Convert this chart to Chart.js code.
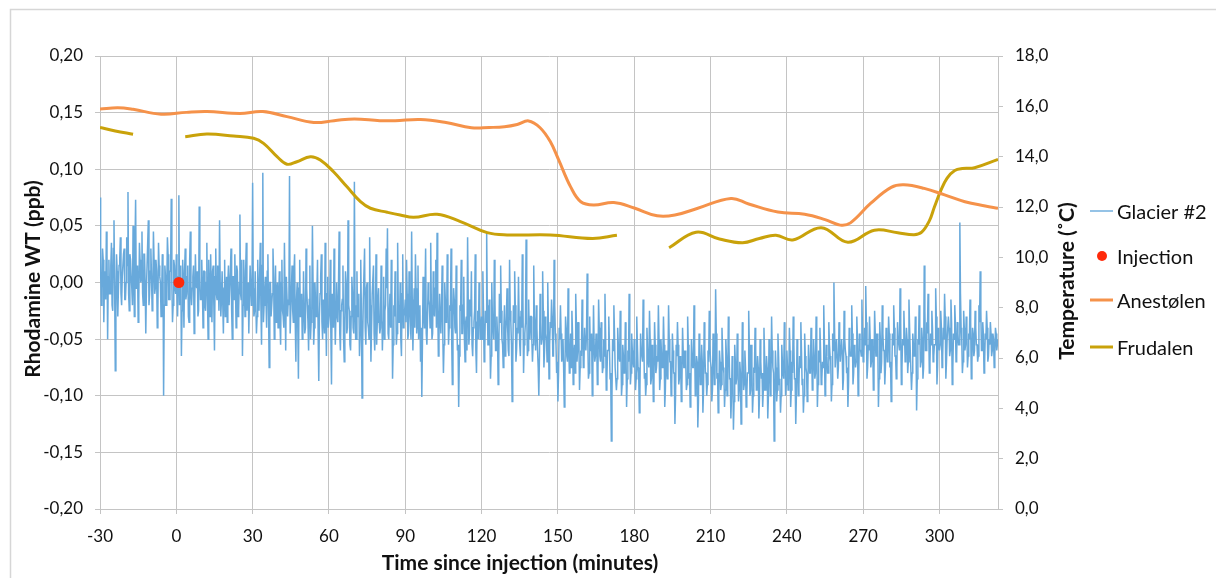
<!DOCTYPE html>
<html>
<head>
<meta charset="utf-8">
<title>Rhodamine WT and temperature</title>
<script src="https://cdn.jsdelivr.net/npm/chart.js@4"></script>
<style>
  html, body { margin: 0; padding: 0; background: #fff; }
  #wrap { width: 1216px; height: 578px; }
</style>
</head>
<body>
<div id="wrap"><canvas id="chart" width="1216" height="578"></canvas></div>
<script>
// Rhodamine WT readings at Glacier #2 (ppb). Samples every quarter minute from -30 min,
// stored as two runs: readings on the half minute, and the readings in between.
const glacierStart = -30;
const glacierStep = 0.5;
const glacierWT = [
  0.075,-0.02,0.03,-0.035,0.01,0.045,-0.05,0.02,-0.01,0.035,-0.025,0.055,-0.078,0.025,-0.03,0.015,0.04,-0.02,0.005,0.03,
  -0.015,0.04,0.08,-0.025,0.02,-0.005,0.05,-0.03,0.073,0.01,-0.035,0.035,0,0.045,-0.02,0.025,-0.045,0.015,0.055,-0.01,
  0.03,-0.025,0.045,-0.01,0.02,-0.04,0.035,0.005,-0.03,0.025,-0.1,0.015,-0.02,0.04,-0.015,0.01,0.074,-0.035,0.02,-0.005,
  0.025,-0.03,0.077,-0.015,-0.065,0.02,-0.04,0.03,-0.01,0.015,-0.035,0.045,-0.02,0.005,-0.045,0.025,-0.005,-0.03,0.067,-0.015,
  0.02,-0.04,0.01,-0.025,0.035,-0.05,0,0.025,-0.035,0.015,-0.06,0.03,-0.015,0.005,0.055,-0.03,0.01,-0.045,0.02,-0.01,
  -0.035,0.015,-0.02,0.03,-0.05,0.005,0.025,-0.04,0.01,-0.025,0.06,-0.015,-0.065,0.02,-0.03,0.035,-0.005,-0.045,0.015,-0.02,
  0.088,-0.03,0.01,-0.045,0.02,-0.025,0.035,-0.055,0.097,-0.02,0.005,-0.04,0.025,-0.075,0,-0.03,0.03,-0.05,0.015,-0.01,
  -0.04,0.01,-0.055,0.02,-0.03,0.035,-0.06,0.005,-0.015,0.094,-0.045,0.015,-0.035,0.025,-0.07,0,-0.085,0.02,-0.025,-0.05,
  0.01,-0.045,0.03,-0.02,-0.06,0.015,-0.035,0.05,-0.055,0,-0.03,0.02,-0.087,-0.01,0.025,-0.05,-0.015,0.035,-0.065,0.005,
  -0.04,0.02,-0.09,-0.015,0.03,-0.055,0,-0.035,0.045,-0.06,-0.02,0.015,-0.07,0.01,-0.045,0.055,-0.025,-0.06,0.005,-0.04,
  0.089,-0.05,0.01,-0.03,-0.065,0.02,-0.102,-0.015,0.03,-0.055,0,-0.04,0.04,-0.07,-0.01,0.015,-0.06,0.025,-0.035,-0.005,
  -0.045,0.015,-0.06,0.005,-0.025,0.03,0.048,-0.05,-0.01,0.02,-0.085,-0.02,0.01,-0.055,0.035,-0.035,0,-0.065,0.025,-0.03,
  -0.015,0.02,-0.05,0.01,-0.035,0.045,-0.06,-0.005,0.025,-0.045,0.015,-0.025,-0.07,-0.101,0.005,-0.04,0.03,-0.055,0,-0.02,
  0.035,-0.05,0.01,-0.03,0.02,0.044,-0.065,-0.01,-0.045,0.015,-0.08,0,-0.035,0.025,-0.055,-0.02,0.03,-0.09,-0.005,-0.04,
  0.015,-0.06,-0.11,-0.02,0.02,-0.045,0.005,-0.07,-0.03,0.04,-0.055,-0.015,0.01,-0.065,-0.035,0.025,-0.08,-0.025,0,-0.05,
  -0.03,0.01,-0.07,-0.025,0.044,-0.055,-0.015,-0.085,0,-0.04,0.02,-0.06,-0.03,-0.09,-0.01,0.015,-0.05,-0.075,-0.02,-0.045,
  -0.005,-0.06,0.02,-0.035,-0.105,-0.02,0.01,-0.07,-0.04,0.005,-0.055,-0.025,0.025,-0.08,-0.045,0.038,-0.065,-0.015,-0.05,-0.03,
  -0.07,0.015,-0.04,-0.02,-0.06,-0.1,-0.01,-0.055,0.01,-0.075,-0.03,-0.05,0,-0.085,-0.035,-0.015,-0.065,0.02,-0.045,-0.08,
  -0.105,-0.04,-0.02,-0.07,-0.05,-0.11,-0.03,-0.065,-0.005,-0.08,-0.045,-0.025,-0.09,-0.055,-0.01,-0.07,-0.035,-0.095,-0.06,-0.015,
  -0.075,-0.04,-0.06,0.008,-0.085,-0.03,-0.055,-0.1,-0.02,-0.07,-0.045,-0.09,-0.015,-0.065,-0.035,-0.08,-0.05,-0.01,-0.095,-0.06,
  -0.03,-0.085,-0.14,-0.05,-0.02,-0.075,-0.095,-0.04,-0.065,-0.025,-0.1,-0.055,-0.08,-0.035,-0.11,-0.06,-0.01,-0.09,-0.045,-0.07,
  -0.05,-0.095,-0.03,-0.075,-0.115,-0.045,-0.06,-0.015,-0.085,-0.1,-0.04,-0.07,-0.025,-0.09,-0.055,-0.105,-0.035,-0.08,-0.065,-0.02,
  -0.095,-0.05,-0.075,-0.03,-0.11,-0.06,-0.085,-0.02,-0.07,-0.1,-0.045,-0.08,-0.125,-0.055,-0.035,-0.09,-0.065,-0.105,-0.04,-0.075,
  -0.06,-0.095,-0.03,-0.085,-0.11,-0.05,-0.075,-0.02,-0.1,-0.065,-0.128,-0.045,-0.09,-0.055,-0.115,-0.035,-0.08,-0.1,-0.06,-0.025,
  -0.07,-0.105,-0.045,-0.09,-0.006,-0.085,-0.115,-0.06,-0.095,-0.04,-0.075,-0.11,-0.05,-0.1,-0.03,-0.085,-0.12,-0.065,-0.13,-0.055,
  -0.09,-0.045,-0.105,-0.07,-0.125,-0.035,-0.095,-0.06,-0.11,-0.08,-0.025,-0.1,-0.055,-0.115,-0.075,-0.04,-0.095,-0.065,-0.12,-0.05,
  -0.085,-0.11,-0.04,-0.095,-0.065,-0.12,-0.05,-0.1,-0.03,-0.075,-0.14,-0.06,-0.105,-0.045,-0.09,-0.115,-0.055,-0.08,-0.035,-0.1,
  -0.06,-0.095,-0.04,-0.11,-0.07,-0.03,-0.085,-0.125,-0.05,-0.1,-0.065,-0.035,-0.09,-0.115,-0.045,-0.075,-0.105,-0.055,-0.08,-0.04,
  -0.095,-0.05,-0.085,-0.03,-0.11,-0.06,-0.04,-0.09,-0.07,-0.02,-0.1,-0.055,-0.08,-0.035,-0.065,-0.105,-0.045,0,-0.075,-0.05,
  -0.085,-0.035,-0.07,-0.05,-0.095,-0.025,-0.06,-0.08,-0.11,-0.04,-0.065,-0.02,-0.09,-0.055,-0.075,-0.03,-0.1,-0.045,-0.06,-0.015,
  -0.07,-0.04,-0.003,-0.085,-0.055,-0.03,-0.075,-0.05,-0.095,-0.025,-0.065,-0.045,-0.11,-0.035,-0.08,-0.02,-0.06,-0.09,-0.04,-0.07,
  -0.03,-0.075,-0.105,-0.045,-0.02,-0.065,-0.085,-0.035,-0.055,-0.005,-0.09,-0.05,-0.025,-0.07,-0.04,-0.08,-0.015,-0.06,-0.095,-0.045,
  -0.065,-0.03,-0.113,-0.05,-0.02,-0.075,-0.04,-0.085,0.015,-0.06,-0.035,-0.01,-0.08,-0.045,-0.025,-0.07,-0.055,-0.005,-0.09,-0.04,
  -0.06,-0.025,-0.075,-0.04,-0.01,-0.085,-0.05,-0.03,-0.065,-0.015,-0.09,-0.045,-0.02,-0.07,-0.035,-0.055,0.053,-0.04,-0.08,-0.025,
  -0.06,-0.03,-0.075,-0.045,-0.015,-0.085,-0.04,-0.065,-0.025,-0.055,-0.07,-0.02,0.01,-0.06,-0.035,-0.08,-0.045,-0.025,-0.07,-0.05,
  -0.035,-0.065,-0.045,-0.075,-0.04,-0.06,-0.05
];
// Readings taken a quarter minute after each entry above.
const glacierWTMid = [
  0.01,-0.005,0.02,0,-0.015,0.025,0.005,-0.01,0.015,-0.02,0.03,0,-0.025,0.01,-0.005,0.02,-0.01,0.005,0.025,-0.015,
  0,0.015,-0.01,0.025,0.005,-0.02,0.01,0.03,-0.005,0.015,-0.015,0.02,0.005,-0.01,0.025,0,-0.005,0.015,-0.02,0.01,
  0.005,-0.015,0.02,-0.005,0.01,-0.025,0.015,0,-0.01,0.02,-0.02,0.005,-0.005,0.025,-0.015,0.01,0,-0.02,0.015,-0.01,
  -0.01,0.005,-0.02,0.015,-0.025,0,0.01,-0.015,0.005,-0.03,0.02,-0.01,-0.005,0.015,-0.02,0,0.01,-0.025,0.005,-0.015,
  -0.005,0.01,-0.02,0,-0.015,0.02,-0.03,-0.005,0.01,-0.02,0.005,-0.01,0.015,-0.025,0,-0.015,0.01,-0.005,-0.03,0.005,
  0,-0.02,0.01,-0.025,0.005,-0.015,-0.005,0.015,-0.03,0,-0.01,0.02,-0.02,-0.005,0.01,-0.025,0,-0.015,0.015,-0.005,
  -0.005,-0.025,0.01,-0.03,-0.01,0.005,-0.02,0.015,-0.035,-0.005,-0.015,0.01,-0.025,0,-0.03,-0.01,0.005,-0.02,-0.035,0,
  -0.015,-0.035,0,-0.025,-0.04,-0.01,0.005,-0.03,-0.02,-0.045,-0.005,-0.025,0.01,-0.035,-0.015,-0.04,-0.005,-0.03,-0.01,-0.045,
  -0.02,-0.04,-0.005,-0.035,-0.015,-0.05,-0.025,0,-0.04,-0.02,-0.01,-0.045,-0.03,0.005,-0.035,-0.015,-0.045,-0.025,-0.01,-0.04,
  -0.025,-0.045,-0.01,-0.04,-0.02,-0.055,-0.03,-0.005,-0.045,-0.025,-0.015,-0.05,-0.035,0,-0.04,-0.02,-0.055,-0.03,-0.01,-0.045,
  -0.02,-0.05,-0.03,-0.01,-0.045,-0.025,-0.055,-0.015,-0.04,-0.005,-0.035,-0.05,-0.02,-0.04,-0.01,-0.045,-0.03,-0.055,-0.015,-0.035,
  -0.04,-0.015,-0.035,-0.05,-0.02,-0.005,-0.045,-0.025,-0.04,-0.01,-0.055,-0.03,-0.015,-0.045,-0.02,-0.035,-0.05,-0.01,-0.04,-0.025,
  -0.035,-0.01,-0.045,-0.02,-0.05,-0.015,-0.03,-0.04,-0.005,-0.035,-0.05,-0.02,-0.04,-0.055,-0.025,-0.01,-0.045,-0.03,-0.015,-0.04,
  -0.02,-0.045,-0.025,-0.005,-0.04,-0.015,-0.05,-0.03,-0.02,-0.045,-0.055,-0.015,-0.035,-0.01,-0.04,-0.025,-0.05,-0.03,-0.015,-0.045,
  -0.03,-0.055,-0.065,-0.025,-0.045,-0.02,-0.05,-0.035,-0.06,-0.015,-0.045,-0.03,-0.055,-0.04,-0.025,-0.06,-0.035,-0.05,-0.02,-0.045,
  -0.05,-0.025,-0.06,-0.035,-0.02,-0.055,-0.04,-0.065,-0.03,-0.05,-0.015,-0.06,-0.045,-0.07,-0.035,-0.025,-0.055,-0.04,-0.065,-0.03,
  -0.04,-0.065,-0.025,-0.055,-0.07,-0.035,-0.02,-0.06,-0.045,-0.03,-0.065,-0.04,-0.015,-0.055,-0.035,-0.025,-0.06,-0.045,-0.03,-0.05,
  -0.055,-0.03,-0.06,-0.04,-0.075,-0.065,-0.035,-0.05,-0.025,-0.06,-0.045,-0.07,-0.035,-0.055,-0.04,-0.03,-0.065,-0.02,-0.055,-0.07,
  -0.08,-0.05,-0.045,-0.065,-0.075,-0.085,-0.04,-0.07,-0.055,-0.06,-0.075,-0.045,-0.065,-0.08,-0.035,-0.06,-0.05,-0.075,-0.065,-0.04,
  -0.07,-0.055,-0.045,-0.05,-0.08,-0.06,-0.045,-0.075,-0.055,-0.065,-0.05,-0.08,-0.04,-0.07,-0.055,-0.075,-0.065,-0.045,-0.085,-0.06,
  -0.055,-0.08,-0.1,-0.06,-0.045,-0.075,-0.085,-0.055,-0.07,-0.05,-0.09,-0.065,-0.075,-0.055,-0.085,-0.07,-0.05,-0.08,-0.06,-0.075,
  -0.065,-0.085,-0.055,-0.08,-0.095,-0.06,-0.07,-0.05,-0.08,-0.09,-0.06,-0.075,-0.05,-0.085,-0.065,-0.09,-0.055,-0.075,-0.07,-0.05,
  -0.085,-0.065,-0.07,-0.055,-0.095,-0.075,-0.08,-0.05,-0.07,-0.09,-0.06,-0.08,-0.1,-0.065,-0.055,-0.085,-0.07,-0.09,-0.06,-0.075,
  -0.07,-0.09,-0.055,-0.08,-0.095,-0.065,-0.075,-0.055,-0.09,-0.07,-0.105,-0.06,-0.085,-0.07,-0.095,-0.06,-0.08,-0.09,-0.07,-0.055,
  -0.075,-0.095,-0.06,-0.085,-0.045,-0.08,-0.1,-0.07,-0.09,-0.06,-0.08,-0.095,-0.065,-0.09,-0.055,-0.085,-0.1,-0.075,-0.105,-0.07,
  -0.085,-0.065,-0.095,-0.08,-0.105,-0.06,-0.09,-0.075,-0.1,-0.08,-0.055,-0.095,-0.07,-0.1,-0.08,-0.06,-0.09,-0.075,-0.1,-0.07,
  -0.08,-0.095,-0.065,-0.09,-0.075,-0.1,-0.07,-0.09,-0.06,-0.08,-0.11,-0.075,-0.095,-0.065,-0.085,-0.1,-0.07,-0.085,-0.06,-0.09,
  -0.075,-0.09,-0.06,-0.095,-0.08,-0.055,-0.085,-0.1,-0.07,-0.09,-0.075,-0.06,-0.085,-0.1,-0.065,-0.08,-0.095,-0.07,-0.08,-0.06,
  -0.085,-0.065,-0.08,-0.055,-0.09,-0.07,-0.06,-0.085,-0.075,-0.05,-0.09,-0.065,-0.08,-0.055,-0.07,-0.09,-0.06,-0.04,-0.075,-0.065,
  -0.075,-0.055,-0.07,-0.06,-0.085,-0.05,-0.065,-0.075,-0.09,-0.055,-0.065,-0.045,-0.08,-0.06,-0.07,-0.05,-0.085,-0.06,-0.065,-0.045,
  -0.065,-0.055,-0.035,-0.075,-0.06,-0.05,-0.07,-0.055,-0.08,-0.045,-0.065,-0.055,-0.085,-0.05,-0.07,-0.045,-0.06,-0.075,-0.055,-0.065,
  -0.045,-0.07,-0.08,-0.055,-0.04,-0.065,-0.075,-0.05,-0.06,-0.035,-0.075,-0.055,-0.045,-0.065,-0.05,-0.07,-0.04,-0.06,-0.08,-0.055,
  -0.06,-0.045,-0.085,-0.055,-0.04,-0.07,-0.05,-0.075,-0.025,-0.06,-0.045,-0.035,-0.07,-0.055,-0.04,-0.065,-0.055,-0.03,-0.075,-0.05,
  -0.055,-0.04,-0.065,-0.05,-0.03,-0.07,-0.05,-0.04,-0.06,-0.035,-0.075,-0.05,-0.035,-0.065,-0.045,-0.055,-0.01,-0.05,-0.07,-0.04,
  -0.055,-0.04,-0.065,-0.05,-0.035,-0.07,-0.045,-0.06,-0.04,-0.055,-0.065,-0.035,-0.025,-0.06,-0.045,-0.07,-0.05,-0.04,-0.065,-0.055,
  -0.045,-0.06,-0.05,-0.065,-0.045,-0.055
];

// Dye injection moment (minutes, ppb)
const injectionTime = [1];
const injectionWT = [0];

// Air temperature, Anestølen (minutes, °C)
const anestolenTime = [-30,-23,-17,-6,4,12,25,34,43.5,54,62,70,80,86,96,106,116,123,129,134,138.5,143,147,150.3,155,159,164,172,180,189,196,205,218,225,236.5,247,255,261,265,273,281,286,294,302,310,318,323];
const anestolenTemp = [15.89,15.94,15.88,15.69,15.76,15.79,15.72,15.79,15.59,15.36,15.43,15.5,15.43,15.43,15.48,15.36,15.15,15.16,15.19,15.28,15.42,15.15,14.6,13.87,12.8,12.21,12.08,12.18,11.96,11.65,11.68,11.95,12.34,12.12,11.8,11.71,11.5,11.28,11.37,12.15,12.78,12.88,12.74,12.48,12.21,12.04,11.95];

// Air temperature, Frudalen (minutes, °C); null marks logger gaps
const frudalenTime = [-30,-24,-17,-7,3.5,12,22.5,30.4,34.3,39.6,43.5,47.4,52.7,56.6,61.8,67.1,72.4,76.3,82.9,88,93.3,102.5,111.7,122.2,130,147,163.6,173.2,183,193.7,204.3,213.5,222.6,229.2,235.7,242.3,253.5,264,274.4,283.6,290,293,296,298,300.5,303,306,309,313.8,323];
const frudalenTemp = [15.16,15.02,14.89,null,14.79,14.9,14.82,14.73,14.53,14.0,13.7,13.8,14.0,13.87,13.4,12.8,12.21,11.95,11.79,11.68,11.59,11.71,11.42,10.98,10.89,10.89,10.75,10.88,null,10.38,11.0,10.73,10.58,10.75,10.88,10.69,11.18,10.6,11.08,10.98,10.9,11.0,11.45,12.0,12.65,13.15,13.45,13.53,13.56,13.89];

const labels = {
  glacier: 'Glacier #2',
  injection: 'Injection',
  anestolen: 'Anestølen',
  frudalen: 'Frudalen',
  x: 'Time since injection (minutes)',
  y: 'Rhodamine WT (ppb)',
  y2: 'Temperature (˚C)'
};

const colors = {
  glacier: '#68A9DB',
  injection: '#FF2A0A',
  anestolen: '#F5924A',
  frudalen: '#C9A20A',
  grid: '#C4C4C4',
  text: '#111111',
  frame: '#D6D6D6'
};

const FONT = 'Lato, "Noto Sans", "Liberation Sans", sans-serif';

const pairs = (xs, ys) => xs.map((x, i) => ({ x: x, y: ys[i] }));

// Interleave the two runs into one time-ordered series.
const glacierPoints = [];
glacierWT.forEach((v, i) => {
  const t = glacierStart + i * glacierStep;
  glacierPoints.push({ x: t, y: v });
  if (i < glacierWTMid.length) glacierPoints.push({ x: t + glacierStep / 2, y: glacierWTMid[i] });
});

// Titles, outer frame and the legend column on the right
const decor = {
  id: 'decor',
  beforeDraw(chart) {
    const ctx = chart.ctx;
    ctx.save();
    ctx.fillStyle = '#fff';
    ctx.fillRect(0, 0, chart.width, chart.height);
    ctx.strokeStyle = colors.frame;
    ctx.lineWidth = 1.5;
    ctx.strokeRect(10.5, 9.5, chart.width + 40, chart.height + 40);
    ctx.restore();
  },
  afterDraw(chart) {
    const ctx = chart.ctx;
    ctx.save();
    ctx.fillStyle = colors.text;
    ctx.textAlign = 'center';
    ctx.textBaseline = 'middle';
    ctx.font = 'bold 21px ' + FONT;

    ctx.save();
    ctx.translate(33, 279);
    ctx.rotate(-Math.PI / 2);
    ctx.fillText(labels.y, 0, 0);
    ctx.restore();

    ctx.save();
    ctx.translate(1067, 281);
    ctx.rotate(-Math.PI / 2);
    ctx.fillText(labels.y2, 0, 0);
    ctx.restore();

    ctx.fillText(labels.x, 520, 563);

    // legend
    const rows = [
      { text: labels.glacier, kind: 'line', color: colors.glacier, width: 1.4, y: 211 },
      { text: labels.injection, kind: 'dot', color: colors.injection, y: 256 },
      { text: labels.anestolen, kind: 'line', color: colors.anestolen, width: 3, y: 300 },
      { text: labels.frudalen, kind: 'line', color: colors.frudalen, width: 3, y: 347 }
    ];
    ctx.font = '20px ' + FONT;
    ctx.textAlign = 'left';
    rows.forEach(r => {
      if (r.kind === 'line') {
        ctx.strokeStyle = r.color;
        ctx.lineWidth = r.width;
        ctx.beginPath();
        ctx.moveTo(1090, r.y);
        ctx.lineTo(1113, r.y);
        ctx.stroke();
      } else {
        ctx.fillStyle = r.color;
        ctx.beginPath();
        ctx.arc(1102, r.y, 5, 0, Math.PI * 2);
        ctx.fill();
      }
      ctx.fillStyle = colors.text;
      ctx.fillText(r.text, 1117, r.y + 2);
    });
    ctx.restore();
  }
};

const tickFont = { family: FONT, size: 17 };
const comma = (v, d) => (Math.abs(v) < 1e-9 ? 0 : v).toFixed(d).replace('.', ',');

new Chart(document.getElementById('chart'), {
  type: 'line',
  data: {
    datasets: [
      {
        label: labels.injection,
        type: 'scatter',
        data: pairs(injectionTime, injectionWT),
        yAxisID: 'y',
        backgroundColor: colors.injection,
        borderColor: colors.injection,
        pointRadius: 5.5,
        pointBorderWidth: 0,
        showLine: false,
        order: 0
      },
      {
        label: labels.anestolen,
        data: pairs(anestolenTime, anestolenTemp),
        yAxisID: 'y2',
        borderColor: colors.anestolen,
        borderWidth: 3,
        pointRadius: 0,
        tension: 0.4,
        fill: false,
        order: 1
      },
      {
        label: labels.frudalen,
        data: pairs(frudalenTime, frudalenTemp),
        yAxisID: 'y2',
        borderColor: colors.frudalen,
        borderWidth: 3,
        pointRadius: 0,
        tension: 0.4,
        spanGaps: false,
        fill: false,
        order: 2
      },
      {
        label: labels.glacier,
        data: glacierPoints,
        yAxisID: 'y',
        borderColor: colors.glacier,
        borderWidth: 1.5,
        pointRadius: 0,
        tension: 0,
        fill: false,
        order: 3
      }
    ]
  },
  options: {
    responsive: false,
    animation: false,
    devicePixelRatio: 1,
    layout: { padding: { left: 0, right: 158, top: 56, bottom: 0 } },
    plugins: {
      legend: { display: false },
      tooltip: { enabled: false },
      title: { display: false }
    },
    scales: {
      x: {
        type: 'linear',
        min: -30,
        max: 323,
        afterFit(s) { s.height = 69; },
        ticks: {
          stepSize: 30,
          includeBounds: false,
          padding: 12,
          color: colors.text,
          font: tickFont,
          maxRotation: 0,
          callback: v => String(v)
        },
        grid: { color: colors.grid, tickLength: 5, lineWidth: 1 },
        border: { color: colors.grid }
      },
      y: {
        position: 'left',
        min: -0.2,
        max: 0.2,
        afterFit(s) { s.width = 100; },
        ticks: {
          stepSize: 0.05,
          padding: 12,
          color: colors.text,
          font: tickFont,
          callback: v => comma(v, 2)
        },
        grid: { color: colors.grid, tickLength: 5, lineWidth: 1 },
        border: { color: colors.grid }
      },
      y2: {
        position: 'right',
        min: 0,
        max: 18,
        afterFit(s) { s.width = 60; },
        ticks: {
          stepSize: 2,
          padding: 12,
          color: colors.text,
          font: tickFont,
          callback: v => comma(v, 1)
        },
        grid: { drawOnChartArea: false, color: colors.grid, tickLength: 5 },
        border: { color: colors.grid }
      }
    }
  },
  plugins: [decor]
});
</script>
</body>
</html>
